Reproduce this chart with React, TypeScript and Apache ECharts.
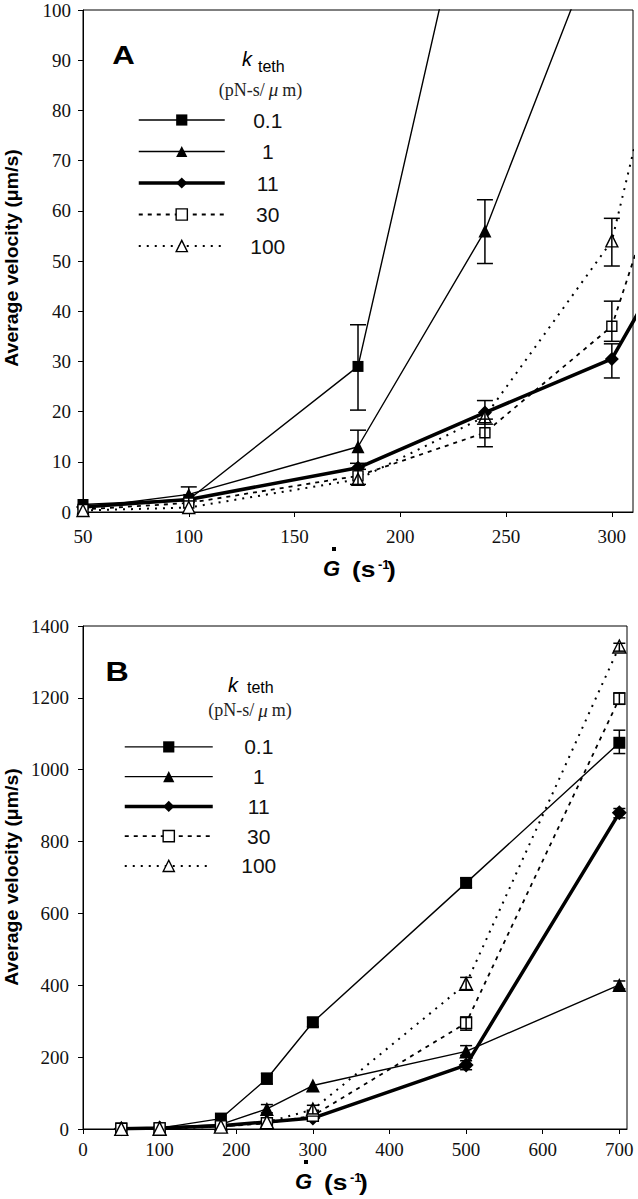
import React, { useEffect, useRef } from 'react';
import * as echarts from 'echarts';

// ---- data ----
const shearRates = [50, 100, 180, 240, 300, 500, 700];
const seriesNames = ['0.1', '1', '11', '30', '100'];
const vel01 = [1.5, 2.5, 29, 140, 297, 685, 1075];
const vel1 = [0.8, 3.5, 13, 56, 121, 216, 401];
const vel11 = [1.0, 2.5, 8.8, 19.8, 30.5, 178, 880];
const vel30 = [0.5, 1.8, 7.2, 15.8, 37, 295, 1198];
const vel100 = [0.3, 0.9, 6.5, 19, 54, 404, 1343];
const velocities = [vel01, vel1, vel11, vel30, vel100];

// error bars: [x, low, high]
const errTop = [
  [180, 20.3, 37.3],
  [100, 2.2, 5.0], [180, 9.7, 16.3], [240, 49.5, 62.2],
  [240, 17.5, 22.2], [300, 26.7, 33.5],
  [240, 13.0, 18.5], [300, 34.0, 42.0],
  [180, 5.5, 8.5], [300, 49.0, 58.5],
];
const errBottom = [
  [240, 125, 155], [300, 285, 310], [500, 672, 698], [700, 1045, 1110],
  [240, 45, 68], [500, 205, 232], [700, 390, 412],
  [500, 165, 190], [700, 866, 892],
  [500, 275, 312], [700, 1182, 1214],
  [300, 42, 66], [500, 388, 422], [700, 1330, 1352],
];

// axis ranges
const xTopMin = 50, xTopMax = 310, xTopStep = 50;
const yTopMin = 0, yTopMax = 100, yTopStep = 10;
const xBotMin = 0, xBotMax = 710, xBotStep = 100;
const yBotMin = 0, yBotMax = 1400, yBotStep = 200;

const styles: Record<string, any> = {
  '0.1': { symbol: 'rect', size: 11, fill: '#000', lw: 1.4, type: 'solid' },
  '1': { symbol: 'triangle', size: 13, fill: '#000', lw: 1.4, type: 'solid' },
  '11': { symbol: 'diamond', size: 14, fill: '#000', lw: 3.5, type: 'solid' },
  '30': { symbol: 'rect', size: 10, fill: '#fff', lw: 1.8, type: [4, 5] },
  '100': { symbol: 'triangle', size: 12, fill: '#fff', lw: 2, type: [2, 6] },
};

const SANS = 'Liberation Sans';
const SERIF = 'Liberation Serif';

function makeAxes(idx: number, xmin: number, xmax: number, xstep: number, ymin: number, ymax: number, ystep: number, xMargin: number, yMargin: number) {
  const common = {
    gridIndex: idx,
    type: 'value' as const,
    axisLine: { show: true, onZero: false, lineStyle: { color: '#000', width: 1 } },
    axisTick: { show: true, inside: false, length: 5, lineStyle: { color: '#000', width: 1 } },
    splitLine: { show: false },
  };
  const label = (margin: number, extra: any) => ({
    show: true, margin, color: '#111', fontFamily: SERIF, fontSize: 19,
    formatter: (v: number) => String(v),
    ...extra,
  });
  return {
    x: { ...common, min: xmin, max: xmax, interval: xstep, axisLabel: label(xMargin, { showMaxLabel: false }) },
    y: { ...common, min: ymin, max: ymax, interval: ystep, axisLabel: label(yMargin, {}) },
  };
}

function errorRender(cap: number) {
  return (params: any, api: any) => {
    const x = api.value(0), lo = api.value(1), hi = api.value(2);
    const a = api.coord([x, lo]);
    const b = api.coord([x, hi]);
    const style = { stroke: '#000', lineWidth: 1.5, fill: null };
    return {
      type: 'group',
      children: [
        { type: 'line', shape: { x1: a[0], y1: a[1], x2: b[0], y2: b[1] }, style },
        { type: 'line', shape: { x1: a[0] - cap, y1: a[1], x2: a[0] + cap, y2: a[1] }, style },
        { type: 'line', shape: { x1: b[0] - cap, y1: b[1], x2: b[0] + cap, y2: b[1] }, style },
      ],
    };
  };
}

function xTitle(gx: number, gy: number) {
  return {
    type: 'group',
    children: [
      { type: 'rect', shape: { x: gx + 9, y: gy - 21, width: 4, height: 4 }, style: { fill: '#000' } },
      { type: 'text', x: gx, y: gy, style: { text: 'G', fontFamily: SANS, fontSize: 22, fontWeight: 'bold', fontStyle: 'italic', fill: '#000', align: 'left', verticalAlign: 'middle' } },
      { type: 'text', x: gx + 29, y: gy + 1, scaleX: 1.2, style: { text: '(s', fontFamily: SANS, fontSize: 22, fontWeight: 'bold', fill: '#000', align: 'left', verticalAlign: 'middle' } },
      { type: 'text', x: gx + 55, y: gy - 4, style: { text: '-1', fontFamily: SANS, fontSize: 13, fontWeight: 'bold', fill: '#000', align: 'left', verticalAlign: 'middle' } },
      { type: 'text', x: gx + 64, y: gy + 1, scaleX: 1.2, style: { text: ')', fontFamily: SANS, fontSize: 22, fontWeight: 'bold', fill: '#000', align: 'left', verticalAlign: 'middle' } },
    ],
  };
}

function legendHeader(kx: number, ky: number, tx: number, ty: number, ux: number, uy: number) {
  return {
    type: 'group',
    children: [
      { type: 'text', x: kx, y: ky, style: { text: 'k', fontFamily: SANS, fontSize: 20, fontStyle: 'italic', fill: '#000', align: 'left', verticalAlign: 'middle' } },
      { type: 'text', x: tx, y: ty, style: { text: 'teth', fontFamily: SANS, fontSize: 16, fill: '#000', align: 'left', verticalAlign: 'middle' } },
      {
        type: 'text', x: ux, y: uy,
        style: {
          text: '{a|(pN-s/}{m|μ}{a|m)}',
          align: 'center', verticalAlign: 'middle', fill: '#222',
          rich: {
            a: { fontFamily: SERIF, fontSize: 18, fill: '#222' },
            m: { fontFamily: SERIF, fontSize: 19, fontStyle: 'italic', fill: '#222', padding: [0, 4, 0, 4] },
          },
        },
      },
    ],
  };
}

function legendFor(left: number, top: number, itemWidth: number, gap: number, textWidth: number) {
  return {
    show: true,
    selectedMode: false,
    data: seriesNames.map((name) => {
      const s = styles[name];
      return {
        name,
        lineStyle: { color: '#000', width: s.lw, type: s.type },
        itemStyle: { color: s.fill, borderColor: '#000', borderWidth: s.fill === '#fff' ? 1.4 : 0 },
      };
    }),
    orient: 'vertical',
    left, top,
    padding: 0,
    itemWidth, itemHeight: 14, itemGap: gap,
    formatter: (name: string) => `{n|${name}}`,
    textStyle: {
      color: '#111', fontFamily: SANS, fontSize: 21,
      rich: { n: { width: textWidth, align: 'center', fontFamily: SANS, fontSize: 21, lineHeight: 14, color: '#111' } },
    },
  };
}

export default function App() {
  const ref = useRef<HTMLDivElement>(null);
  useEffect(() => {
    if (!ref.current) return;
    const chart = echarts.init(ref.current, null, { renderer: 'svg' });
    const top = makeAxes(0, xTopMin, xTopMax, xTopStep, yTopMin, yTopMax, yTopStep, 15, 12);
    const bot = makeAxes(1, xBotMin, xBotMax, xBotStep, yBotMin, yBotMax, yBotStep, 11, 14);

    const lineSeries: any[] = [];
    [0, 1].forEach((g) => {
      seriesNames.forEach((name, i) => {
        const s = styles[name];
        lineSeries.push({
          type: 'line',
          name,
          xAxisIndex: g, yAxisIndex: g,
          data: shearRates.map((x, j) => [x, velocities[i][j]]),
          symbol: s.symbol,
          symbolSize: g === 0 ? s.size : s.size + 1,
          showAllSymbol: true,
          clip: true,
          lineStyle: { color: '#000', width: s.lw, type: s.type },
          itemStyle: { color: s.fill, borderColor: '#000', borderWidth: s.fill === '#fff' ? 1.4 : 0 },
          emphasis: { disabled: true },
          z: 3,
        });
      });
    });

    const option: any = {
      animation: false,
      backgroundColor: '#fff',
      grid: [
        { left: 83, top: 10, right: 5, height: 502, show: true, borderColor: '#000', borderWidth: 1, backgroundColor: 'transparent', outerBoundsMode: 'none', containLabel: false },
        { left: 83, top: 626, right: 11, height: 503, show: true, borderColor: '#000', borderWidth: 1, backgroundColor: 'transparent', outerBoundsMode: 'none', containLabel: false },
      ],
      xAxis: [top.x, bot.x],
      yAxis: [top.y, bot.y],
      legend: [
        legendFor(137, 109.5, 86, 10.5, 76),
        legendFor(123, 736.4, 88, 8.75, 82),
      ],
      tooltip: { show: false },
      series: [
        ...lineSeries,
        {
          type: 'custom', name: 'errTop', xAxisIndex: 0, yAxisIndex: 0,
          data: errTop, encode: { x: 0, y: [1, 2] },
          renderItem: errorRender(8), z: 4, silent: true,
        },
        {
          type: 'custom', name: 'errBottom', xAxisIndex: 1, yAxisIndex: 1,
          data: errBottom, encode: { x: 0, y: [1, 2] },
          renderItem: errorRender(6), z: 4, silent: true,
        },
      ],
      graphic: [
        // y axis titles
        { type: 'text', x: 12, y: 258, rotation: Math.PI / 2, scaleX: 1.08, style: { text: 'Average velocity (μm/s)', fontFamily: SANS, fontWeight: 'bold', fontSize: 18, fill: '#000', align: 'center', verticalAlign: 'middle' } },
        { type: 'text', x: 12, y: 877, rotation: Math.PI / 2, scaleX: 1.08, style: { text: 'Average velocity (μm/s)', fontFamily: SANS, fontWeight: 'bold', fontSize: 18, fill: '#000', align: 'center', verticalAlign: 'middle' } },
        // x axis titles
        xTitle(323, 568),
        xTitle(295, 1181),
        // panel letters
        { type: 'text', x: 123.5, y: 55, scaleX: 1.2, style: { text: 'A', fontFamily: SANS, fontWeight: 'bold', fontSize: 26, fill: '#000', align: 'center', verticalAlign: 'middle' } },
        { type: 'text', x: 117, y: 671, scaleX: 1.15, style: { text: 'B', fontFamily: SANS, fontWeight: 'bold', fontSize: 28, fill: '#000', align: 'center', verticalAlign: 'middle' } },
        // legend headers
        legendHeader(242, 58.5, 258, 66.5, 260.5, 89.5),
        legendHeader(228, 684.5, 247, 687.5, 250, 710),
      ],
    };
    chart.setOption(option);
    return () => chart.dispose();
  }, []);
  return <div ref={ref} style={{ position: 'absolute', left: 0, top: 0, width: 638, height: 1199 }} />;
}
